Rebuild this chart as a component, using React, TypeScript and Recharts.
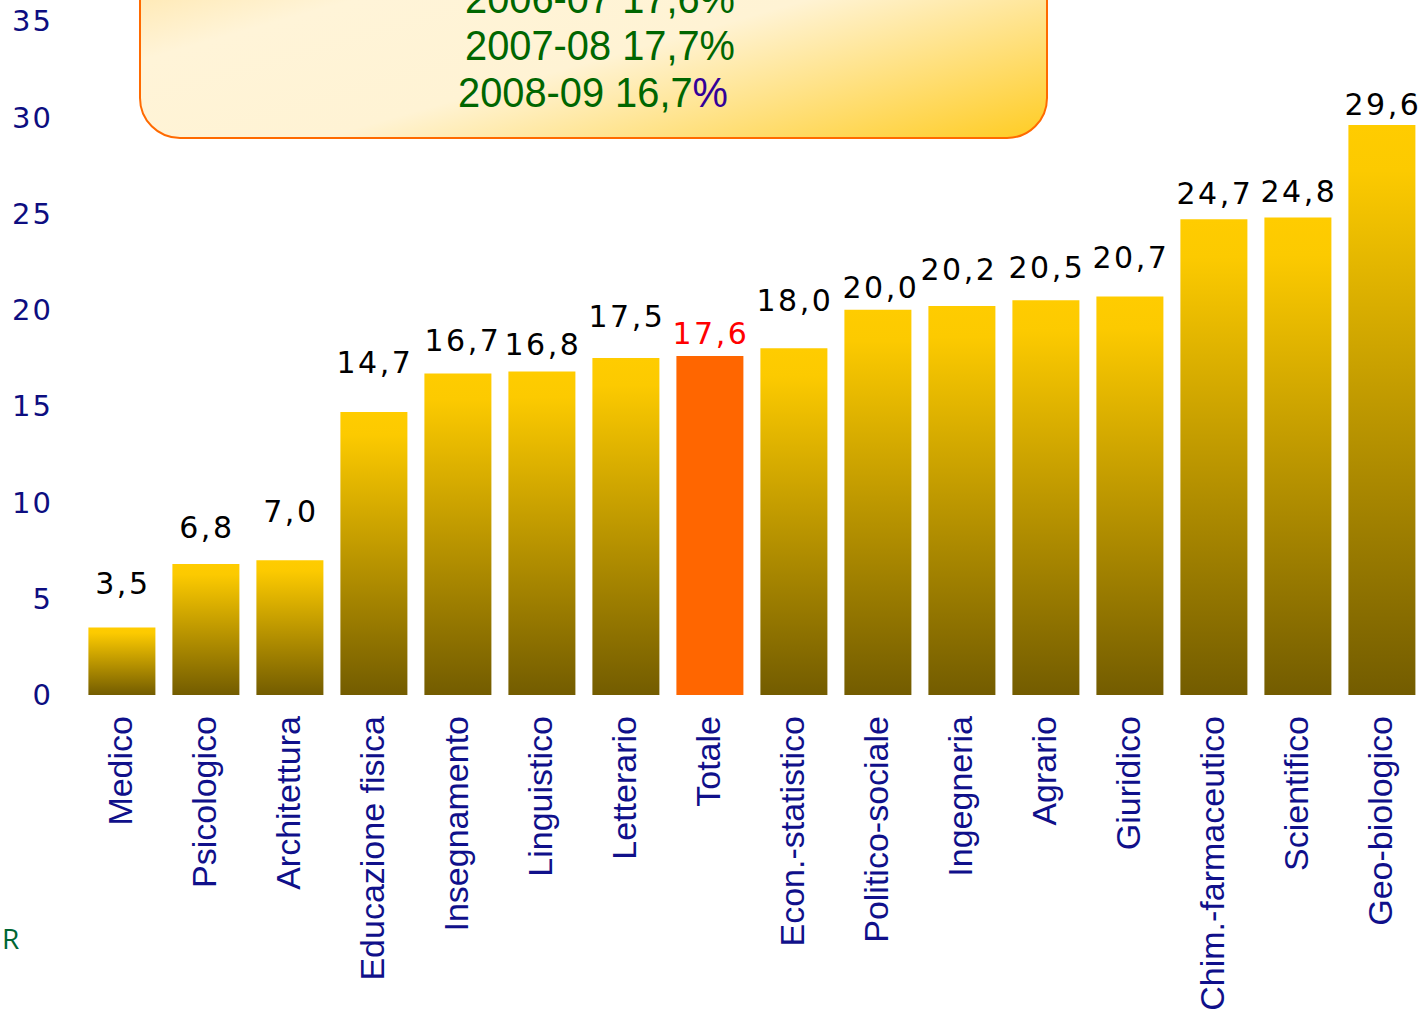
import { BarChart, Bar, XAxis, YAxis, Cell, LabelList } from "recharts";

// Tasso di abbandono per gruppo disciplinare (%)
const categories = [
  "Medico", "Psicologico", "Architettura", "Educazione fisica", "Insegnamento",
  "Linguistico", "Letterario", "Totale", "Econ.-statistico", "Politico-sociale",
  "Ingegneria", "Agrario", "Giuridico", "Chim.-farmaceutico", "Scientifico", "Geo-biologico",
];
const values = [3.5, 6.8, 7.0, 14.7, 16.7, 16.8, 17.5, 17.6, 18.0, 20.0, 20.2, 20.5, 20.7, 24.7, 24.8, 29.6];
const yTicks = [0, 5, 10, 15, 20, 25, 30, 35];
const boxLines = ["2006-07 17,6%", "2007-08 17,7%", "2008-09 16,7%"];
const TOTAL = "Totale";

// hand-placed label gaps above each bar (px), as in the original slide
const labelGap = [34, 26, 38, 39, 22, 16, 31, 12, 37, 12, 26, 22, 28, 15, 15, 10];
const labelShift = [0, 0, 0, 0, 4, 0, 0, 0, 0, 2, -4, 0, 0, 0, 0, 0];

const data = categories.map((name, i) => ({ name, value: values[i] }));

const fmt = (v: number) => v.toFixed(1).replace(".", ",");

const CategoryTick = (props: any) => {
  const { x, y, payload } = props;
  const ty = y + 13;
  return (
    <text
      x={x}
      y={ty}
      transform={`rotate(-90, ${x}, ${ty})`}
      textAnchor="end"
      dy="0.3em"
      fill="#10108a"
      fontSize={34}
      fontFamily="'Liberation Sans', Arial, sans-serif"
    >
      {payload.value}
    </text>
  );
};

const ValueLabel = (props: any) => {
  const { x, y, width, value, index } = props;
  const isTotal = categories[index] === TOTAL;
  return (
    <text
      x={x + width / 2 + (labelShift[index] ?? 0) + 1}
      y={y - (labelGap[index] ?? 10)}
      textAnchor="middle"
      fill={isTotal ? "#ff0000" : "#000000"}
      fontSize={30}
      letterSpacing={2.5}
      fontFamily="'DejaVu Sans', Verdana, sans-serif"
    >
      {fmt(value)}
    </text>
  );
};

export default function App() {
  return (
    <div style={{ position: "absolute", left: 0, top: 0, width: 1424, height: 1025, background: "#fff", overflow: "hidden" }}>
      <BarChart
        width={1424}
        height={1025}
        data={data}
        margin={{ top: 21, right: 0, left: 0, bottom: 0 }}
        barCategoryGap="10%"
      >
        <defs>
          <linearGradient id="barGold" x1="0" y1="0" x2="0" y2="1">
            <stop offset="0%" stopColor="#ffcc00" />
            <stop offset="8%" stopColor="#fcca00" />
            <stop offset="100%" stopColor="#735c00" />
          </linearGradient>
        </defs>
        <XAxis
          dataKey="name"
          interval={0}
          height={330}
          axisLine={false}
          tickLine={false}
          tick={<CategoryTick />}
        />
        <YAxis
          type="number"
          domain={[0, 35]}
          ticks={yTicks}
          width={80}
          axisLine={false}
          tickLine={false}
          tickSize={0}
          tickMargin={27}
          tick={{ fill: "#0d0d80", fontSize: 29, fontFamily: "'DejaVu Sans', Verdana, sans-serif", letterSpacing: 2 }}
        />
        <Bar dataKey="value" isAnimationActive={false}>
          {data.map((d, i) => (
            <Cell key={`c-${i}`} fill={d.name === TOTAL ? "#ff6600" : "url(#barGold)"} />
          ))}
          <LabelList dataKey="value" content={<ValueLabel />} />
        </Bar>
      </BarChart>

      <svg width={1424} height={160} style={{ position: "absolute", left: 0, top: 0 }}>
        <defs>
          <linearGradient id="boxFill" x1="0" y1="0" x2="1" y2="1">
            <stop offset="0%" stopColor="#ffd77a" />
            <stop offset="35%" stopColor="#fff4d8" />
            <stop offset="60%" stopColor="#fff3d4" />
            <stop offset="100%" stopColor="#ffcc22" />
          </linearGradient>
        </defs>
        <rect x={140} y={-120} width={907} height={258} rx={40} ry={40} fill="url(#boxFill)" stroke="#ff6a00" strokeWidth={2} />
        {boxLines.map((line, i) => {
          const isLast = i === boxLines.length - 1;
          const body = isLast ? line.slice(0, -1) : line;
          return (
            <text
              key={line}
              x={isLast ? 593 : 600}
              y={13 + i * 47}
              textAnchor="middle"
              fill="#006600"
              fontSize={42}
              fontFamily="'Liberation Sans', Arial, sans-serif"
              textLength={270}
              lengthAdjust="spacingAndGlyphs"
            >
              {body}
              {isLast ? <tspan fill="#330099">%</tspan> : null}
            </text>
          );
        })}
      </svg>

      <div
        style={{
          position: "absolute",
          left: 2,
          top: 919,
          color: "#006633",
          fontSize: 28,
          fontFamily: "'Open Sans', 'Liberation Sans', sans-serif",
        }}
      >
        R
      </div>
    </div>
  );
}
